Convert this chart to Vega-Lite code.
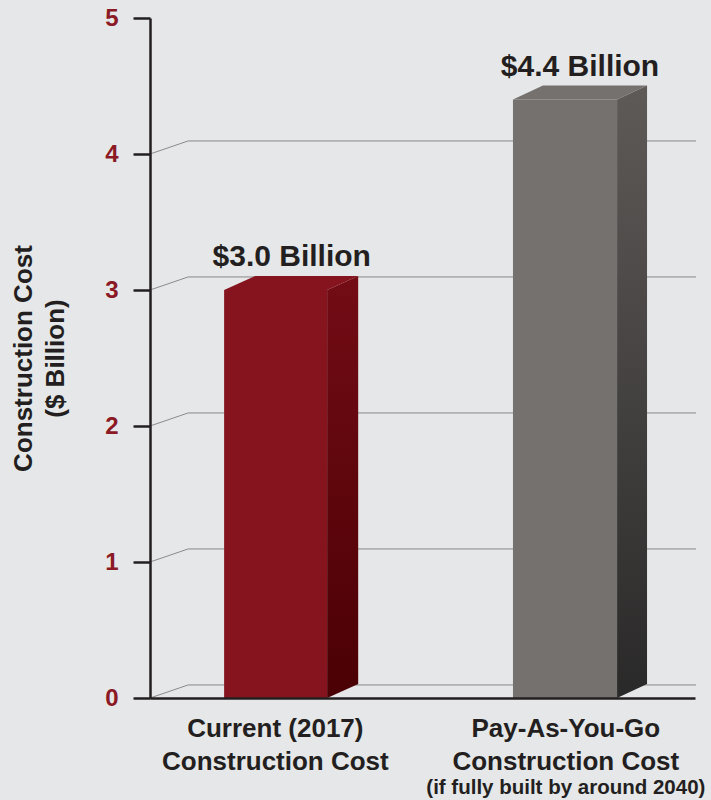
{
  "$schema": "https://vega.github.io/schema/vega-lite/v6.json",
  "width": 545,
  "height": 680,
  "autosize": {"type": "none"},
  "padding": {"left": 150, "top": 18, "right": 16, "bottom": 102},
  "background": "#e6e7e8",
  "config": {
    "view": {"stroke": null},
    "font": "Liberation Sans"
  },
  "datasets": {
    "bars": [
      {"bar": "current", "x0": 13.6, "x1": 32.5, "lx": 26.0, "cx": 23.0, "value": 3.0, "top": 3.103, "label": "$3.0 Billion", "cat": "Current (2017)\nConstruction Cost", "note": ""},
      {"bar": "payg", "x0": 66.6, "x1": 85.7, "lx": 78.9, "cx": 76.3, "value": 4.4, "top": 4.503, "label": "$4.4 Billion", "cat": "Pay-As-You-Go\nConstruction Cost", "note": "(if fully built by around 2040)"}
    ],
    "sides": [
      {"bar": "current", "x": 32.5, "lo": 0, "hi": 3.0},
      {"bar": "current", "x": 38.2, "lo": 0.103, "hi": 3.103},
      {"bar": "payg", "x": 85.7, "lo": 0, "hi": 4.4},
      {"bar": "payg", "x": 91.2, "lo": 0.103, "hi": 4.503}
    ],
    "tops": [
      {"bar": "current", "y": 3.0, "xa": 13.6, "xb": 32.5},
      {"bar": "current", "y": 3.103, "xa": 19.3, "xb": 38.2},
      {"bar": "payg", "y": 4.4, "xa": 66.6, "xb": 85.7},
      {"bar": "payg", "y": 4.503, "xa": 72.1, "xb": 91.2}
    ],
    "grid": [
      {"v": 0, "x": 0, "y": 0}, {"v": 0, "x": 7, "y": 0.096}, {"v": 0, "x": 100.2, "y": 0.096},
      {"v": 1, "x": 0, "y": 1}, {"v": 1, "x": 7, "y": 1.096}, {"v": 1, "x": 100.2, "y": 1.096},
      {"v": 2, "x": 0, "y": 2}, {"v": 2, "x": 7, "y": 2.096}, {"v": 2, "x": 100.2, "y": 2.096},
      {"v": 3, "x": 0, "y": 3}, {"v": 3, "x": 7, "y": 3.096}, {"v": 3, "x": 100.2, "y": 3.096},
      {"v": 4, "x": 0, "y": 4}, {"v": 4, "x": 7, "y": 4.096}, {"v": 4, "x": 100.2, "y": 4.096}
    ]
  },
  "layer": [
    {
      "data": {"name": "grid"},
      "mark": {"type": "line", "color": "#8a8a8a", "strokeWidth": 1, "clip": false},
      "encoding": {
        "x": {
          "field": "x", "type": "quantitative",
          "scale": {"domain": [0, 100], "nice": false, "zero": false},
          "axis": {
            "title": null, "labels": false, "ticks": false, "grid": false,
            "domainColor": "#231f20", "domainWidth": 2.5, "zindex": 1
          }
        },
        "y": {
          "field": "y", "type": "quantitative",
          "scale": {"domain": [0, 5], "nice": false},
          "axis": {
            "values": [0, 1, 2, 3, 4, 5],
            "format": "d",
            "grid": false,
            "title": ["Construction Cost", "($ Billion)"],
            "titleFont": "Liberation Sans", "titleFontSize": 26, "titleFontWeight": "bold",
            "titleColor": "#231f20", "titleLineHeight": 32, "titlePadding": 36,
            "labelFont": "Liberation Sans", "labelFontSize": 24, "labelFontWeight": "bold",
            "labelColor": "#8b1a24", "labelPadding": 15,
            "tickSize": 17, "tickWidth": 2.5, "tickColor": "#231f20",
            "domainColor": "#231f20", "domainWidth": 2.5, "zindex": 1
          }
        },
        "detail": {"field": "v", "type": "nominal"}
      }
    },
    {
      "data": {"name": "bars"},
      "mark": {"type": "rect"},
      "encoding": {
        "x": {"field": "x0", "type": "quantitative"},
        "x2": {"field": "x1"},
        "y": {"field": "value", "type": "quantitative"},
        "y2": {"datum": 0},
        "color": {
          "field": "bar", "type": "nominal", "legend": null,
          "scale": {"domain": ["current", "payg"], "range": ["#86141f", "#74716f"]}
        }
      }
    },
    {
      "data": {"name": "sides"},
      "transform": [{"filter": "datum.bar == 'current'"}],
      "mark": {
        "type": "area",
        "color": {
          "gradient": "linear", "x1": 0, "y1": 0, "x2": 0, "y2": 1,
          "stops": [{"offset": 0, "color": "#730c15"}, {"offset": 1, "color": "#4a0004"}]
        }
      },
      "encoding": {
        "x": {"field": "x", "type": "quantitative"},
        "y": {"field": "hi", "type": "quantitative"},
        "y2": {"field": "lo"}
      }
    },
    {
      "data": {"name": "sides"},
      "transform": [{"filter": "datum.bar == 'payg'"}],
      "mark": {
        "type": "area",
        "color": {
          "gradient": "linear", "x1": 0, "y1": 0, "x2": 0, "y2": 1,
          "stops": [{"offset": 0, "color": "#5e5a58"}, {"offset": 1, "color": "#2a2929"}]
        }
      },
      "encoding": {
        "x": {"field": "x", "type": "quantitative"},
        "y": {"field": "hi", "type": "quantitative"},
        "y2": {"field": "lo"}
      }
    },
    {
      "data": {"name": "tops"},
      "mark": {"type": "area", "orient": "horizontal"},
      "encoding": {
        "y": {"field": "y", "type": "quantitative"},
        "x": {"field": "xa", "type": "quantitative"},
        "x2": {"field": "xb"},
        "detail": {"field": "bar", "type": "nominal"},
        "color": {
          "field": "bar", "type": "nominal", "legend": null,
          "scale": {"domain": ["current", "payg"], "range": ["#923530", "#8a8683"]}
        }
      }
    },
    {
      "data": {"name": "bars"},
      "mark": {"type": "text", "font": "Liberation Sans", "fontSize": 30, "fontWeight": "bold", "color": "#231f20", "baseline": "alphabetic", "align": "center", "dy": -10},
      "encoding": {
        "x": {"field": "lx", "type": "quantitative"},
        "y": {"field": "top", "type": "quantitative"},
        "text": {"field": "label"}
      }
    },
    {
      "data": {"name": "bars"},
      "mark": {"type": "text", "font": "Liberation Sans", "fontSize": 26, "fontWeight": "bold", "color": "#231f20", "baseline": "top", "align": "center", "lineBreak": "\n", "lineHeight": 33, "dy": 18},
      "encoding": {
        "x": {"field": "cx", "type": "quantitative"},
        "y": {"datum": 0},
        "text": {"field": "cat"}
      }
    },
    {
      "data": {"name": "bars"},
      "mark": {"type": "text", "font": "Liberation Sans", "fontSize": 20.5, "fontWeight": "bold", "color": "#231f20", "baseline": "alphabetic", "align": "center", "dy": 96},
      "encoding": {
        "x": {"field": "cx", "type": "quantitative"},
        "y": {"datum": 0},
        "text": {"field": "note"}
      }
    }
  ]
}
